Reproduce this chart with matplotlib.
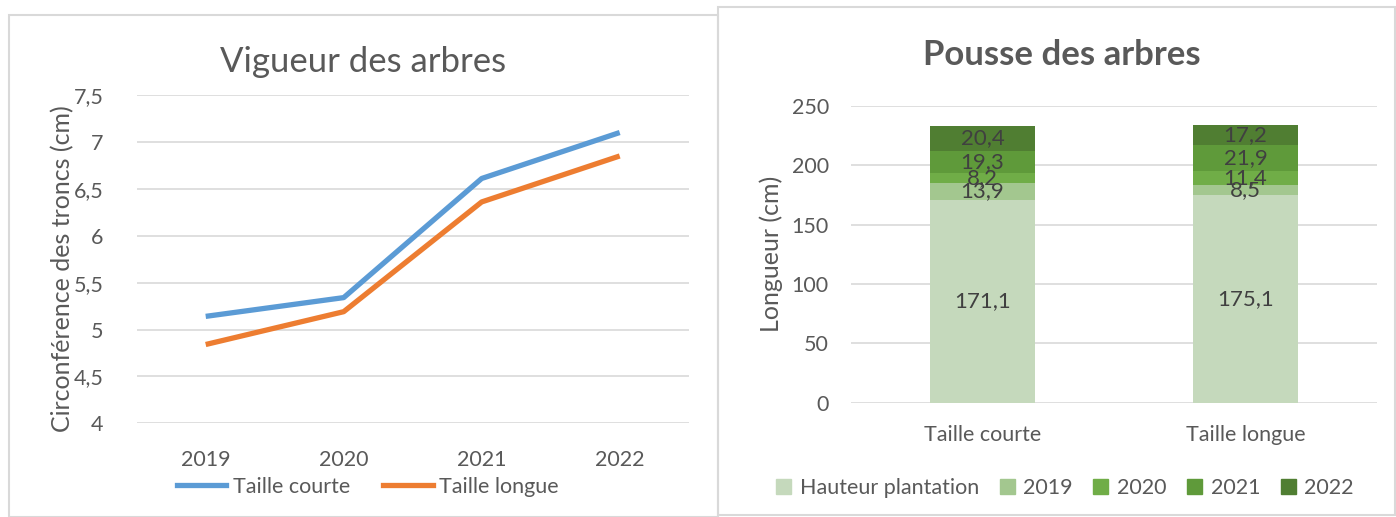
import matplotlib
matplotlib.use("Agg")
import matplotlib.pyplot as plt
from matplotlib.patches import Rectangle
from matplotlib.lines import Line2D
import numpy as np

plt.rcParams['font.family'] = ['Lato', 'DejaVu Sans']

# ---- data ----
years = ["2019", "2020", "2021", "2022"]
taille_courte = [5.14, 5.34, 6.61, 7.10]
taille_longue = [4.84, 5.19, 6.36, 6.85]

bar_categories = ["Taille courte", "Taille longue"]
stack_names = ["Hauteur plantation", "2019", "2020", "2021", "2022"]
stack_values = {
    "Hauteur plantation": [171.1, 175.1],
    "2019": [13.9, 8.5],
    "2020": [8.2, 11.4],
    "2021": [19.3, 21.9],
    "2022": [20.4, 17.2],
}
left_yticks = [4, 4.5, 5, 5.5, 6, 6.5, 7, 7.5]
right_yticks = [0, 50, 100, 150, 200, 250]

# ---- style ----
W, H = 1396, 517
TXT = "#595959"
LBL = "#404040"
GRID = "#D9D9D9"
line_colors = ["#5B9BD5", "#ED7D31"]
stack_colors = ["#C5D9BC", "#A3C78F", "#70AD47", "#5F9A3A", "#507E32"]
FS = 15.5

fig = plt.figure(figsize=(W / 100, H / 100), dpi=100)

def fx(px):
    return px / W

def fy(py):
    return 1 - py / H

# panel borders
fig.patches.append(Rectangle((fx(9), fy(517)), fx(718 - 9), fy(15) - fy(517),
                             transform=fig.transFigure, fill=False,
                             edgecolor=GRID, lw=1.5))
fig.patches.append(Rectangle((fx(718), fy(515)), fx(1395 - 718), fy(7) - fy(515),
                             transform=fig.transFigure, fill=False,
                             edgecolor=GRID, lw=1.5))

def fmt(v):
    s = ("%g" % v)
    return s.replace(".", ",")

# ---- left chart ----
axL = fig.add_axes([fx(136.7), fy(423.3), fx(688.7 - 136.7), fy(95) - fy(423.3)])
x = np.arange(len(years))
axL.plot(x, taille_courte, color=line_colors[0], lw=3.8, solid_capstyle='butt', zorder=3)
axL.plot(x, taille_longue, color=line_colors[1], lw=3.8, solid_capstyle='butt', zorder=3)
axL.set_xlim(-0.5, len(years) - 0.5)
axL.set_ylim(4, 7.5)
axL.set_yticks(left_yticks)
axL.set_yticklabels([fmt(v) for v in left_yticks])
axL.set_xticks(x)
axL.set_xticklabels(years)
axL.grid(axis='y', color=GRID, lw=1.2)
axL.set_axisbelow(True)
for s in axL.spines.values():
    s.set_visible(False)
axL.tick_params(axis='both', length=0, labelsize=FS, colors=TXT)
axL.tick_params(axis='y', pad=24)
axL.tick_params(axis='x', pad=19)
axL.set_ylabel("Circonférence des troncs (cm)", fontsize=18, color=TXT)
axL.yaxis.set_label_coords((74 - 136.7) / 552, 0.4726)
fig.text(fx(363), fy(62), "Vigueur des arbres", fontsize=25, color=TXT,
         ha='center', va='center')
handlesL = [Line2D([0], [0], color=c, lw=3.8) for c in line_colors]
fig.legend(handlesL, ["Taille courte", "Taille longue"], loc='center',
           bbox_to_anchor=(fx(368), fy(487)), ncol=2, frameon=False,
           fontsize=FS, labelcolor=TXT, handlelength=2.3, columnspacing=1.55,
           handletextpad=0.3)

# ---- right chart ----
axR = fig.add_axes([fx(851), fy(402.7), fx(1377 - 851), fy(106) - fy(402.7)])
xb = np.arange(len(bar_categories))
bottom = np.zeros(len(bar_categories))
for name, col in zip(stack_names, stack_colors):
    vals = np.array(stack_values[name])
    axR.bar(xb, vals, 0.403, bottom=bottom, color=col, zorder=3)
    for xi, v, b in zip(xb, vals, bottom):
        axR.text(xi, b + v / 2, fmt(v), ha='center', va='center',
                 fontsize=16, color=LBL, zorder=4)
    bottom = bottom + vals
axR.set_xlim(-0.5, len(bar_categories) - 0.5)
axR.set_ylim(0, 250)
axR.set_yticks(right_yticks)
axR.set_xticks(xb)
axR.set_xticklabels(bar_categories)
axR.grid(axis='y', color=GRID, lw=1.2)
axR.set_axisbelow(True)
for s in axR.spines.values():
    s.set_visible(False)
axR.tick_params(axis='both', length=0, labelsize=FS, colors=TXT)
axR.tick_params(axis='y', pad=16)
axR.tick_params(axis='x', pad=16)
axR.set_ylabel("Longueur (cm)", fontsize=18, color=TXT)
axR.yaxis.set_label_coords((783 - 851) / (1377 - 851), 0.5)
fig.text(fx(1062), fy(55), "Pousse des arbres", fontsize=25, color=TXT,
         ha='center', va='center', fontweight='bold')
handlesR = [Rectangle((0, 0), 1, 1, color=c) for c in stack_colors]
fig.legend(handlesR, stack_names, loc='center', bbox_to_anchor=(fx(1065), fy(488)),
           ncol=5, frameon=False, fontsize=FS, labelcolor=TXT,
           handlelength=0.7, handleheight=0.7, columnspacing=0.95,
           handletextpad=0.4)

fig.savefig("out.png", dpi=100)
